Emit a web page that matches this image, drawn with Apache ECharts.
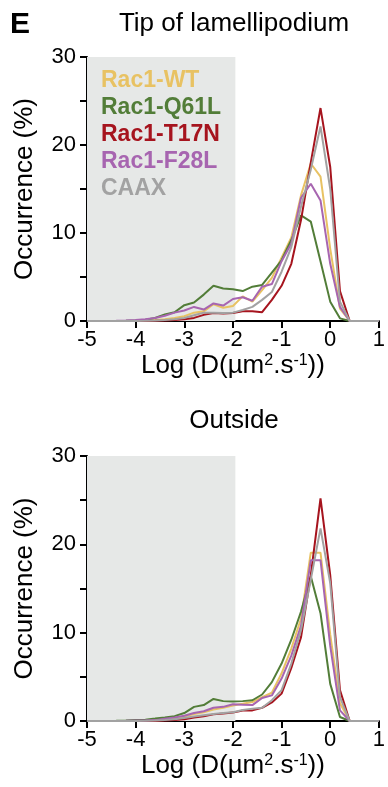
<!DOCTYPE html>
<html>
<head>
<meta charset="utf-8">
<script src="https://cdn.jsdelivr.net/npm/echarts@6/dist/echarts.min.js"></script>
<style>
  html, body { margin: 0; padding: 0; background: #fff; }
  #chart { width: 388px; height: 787px; }
</style>
</head>
<body>
<div id="chart"></div>
<script>
// Bin centres of log10 diffusion coefficient
const logD = [-5.0, -4.8, -4.6, -4.4, -4.2, -4.0, -3.8, -3.6, -3.4, -3.2, -3.0,
              -2.8, -2.6, -2.4, -2.2, -2.0, -1.8, -1.6, -1.4, -1.2, -1.0,
              -0.8, -0.6, -0.4, -0.2, 0.0, 0.2, 0.4, 0.6, 0.8, 1.0];

const seriesNames = ['Rac1-WT', 'Rac1-Q61L', 'Rac1-T17N', 'Rac1-F28L', 'CAAX'];

// Occurrence (%) at the tip of the lamellipodium
const tipWT   = [0, 0, 0, 0, 0, 0.02, 0.05, 0.1, 0.2, 0.35, 0.55, 0.95, 1.1, 1.9, 1.5, 1.7, 2.8, 2.2, 3.5, 4.9, 7.2, 9.5, 14.3, 17.9, 16.4, 8.2, 1.4, 0, 0, 0, 0];
const tipQ61L = [0, 0, 0, 0, 0.02, 0.05, 0.15, 0.35, 0.75, 1.0, 1.8, 2.1, 3.0, 4.0, 3.7, 3.6, 3.4, 3.9, 4.1, 5.5, 6.9, 9.2, 12.0, 11.3, 6.8, 2.2, 0.3, 0, 0, 0, 0];
const tipT17N = [0, 0, 0, 0, 0, 0, 0, 0.02, 0.05, 0.1, 0.2, 0.35, 0.7, 0.9, 0.85, 0.9, 1.1, 1.1, 1.0, 2.4, 4.0, 6.5, 11.5, 18.0, 24.2, 17.5, 3.4, 0, 0, 0, 0];
const tipF28L = [0, 0, 0, 0.02, 0.05, 0.1, 0.2, 0.35, 0.6, 0.95, 1.2, 1.6, 1.3, 2.0, 1.75, 2.5, 2.7, 2.3, 3.9, 4.2, 6.8, 8.8, 14.0, 15.6, 13.7, 6.5, 1.6, 0, 0, 0, 0];
const tipCAAX = [0, 0, 0, 0, 0, 0, 0.02, 0.05, 0.1, 0.2, 0.35, 0.65, 0.95, 0.95, 0.9, 0.95, 1.25, 1.6, 2.4, 3.3, 5.6, 8.4, 13.0, 17.2, 22.1, 15.0, 2.2, 0, 0, 0, 0];

// Occurrence (%) outside
const outWT   = [0, 0, 0, 0, 0, 0.02, 0.05, 0.1, 0.2, 0.35, 0.5, 0.8, 1.0, 1.3, 1.5, 1.75, 1.95, 2.15, 2.7, 3.2, 5.4, 8.2, 11.6, 19.05, 19.05, 9.8, 2.0, 0, 0, 0, 0];
const outQ61L = [0, 0, 0, 0.02, 0.05, 0.1, 0.15, 0.27, 0.4, 0.55, 0.9, 1.6, 1.8, 2.5, 2.25, 2.2, 2.25, 2.35, 3.0, 4.4, 6.5, 9.2, 12.4, 16.4, 12.2, 4.2, 0.45, 0, 0, 0, 0];
const outT17N = [0, 0, 0, 0, 0, 0, 0, 0, 0.05, 0.1, 0.2, 0.4, 0.55, 0.75, 0.85, 0.95, 1.2, 1.2, 1.5, 2.1, 3.1, 6.0, 9.5, 16.5, 25.2, 16.5, 3.5, 0, 0, 0, 0];
const outF28L = [0, 0, 0, 0, 0.02, 0.05, 0.07, 0.1, 0.25, 0.4, 0.6, 0.9, 1.1, 1.5, 1.6, 1.9, 1.85, 1.8, 2.6, 2.9, 4.8, 7.4, 10.8, 18.2, 18.2, 8.5, 1.2, 0, 0, 0, 0];
const outCAAX = [0, 0, 0, 0, 0, 0, 0.02, 0.05, 0.1, 0.2, 0.35, 0.5, 0.65, 0.8, 0.9, 1.0, 1.25, 1.4, 1.5, 2.35, 3.5, 6.5, 10.3, 16.0, 21.8, 15.6, 2.7, 0, 0, 0, 0];

// Immobile range shaded on each panel (log D)
const shadeRange = [-5, -1.95];
const xTicks = [-5, 1];
const yTicks = [0, 30];

const colors = {
  'Rac1-WT': '#E8C263',
  'Rac1-Q61L': '#527D38',
  'Rac1-T17N': '#A6141E',
  'Rac1-F28L': '#A765B0',
  'CAAX': '#A2A2A2'
};

const FONT = "'Liberation Sans', Arial, Helvetica, sans-serif";

const panels = [
  [tipWT, tipQ61L, tipT17N, tipF28L, tipCAAX],
  [outWT, outQ61L, outT17N, outF28L, outCAAX]
];

function xAxisFor(gridIndex) {
  return {
    type: 'value', gridIndex: gridIndex,
    min: xTicks[0], max: xTicks[1], interval: 1,
    name: 'Log (D(µm{sup|2}.s{sup|-1}))',
    nameLocation: 'middle', nameGap: 32,
    nameTextStyle: {
      color: '#000', fontFamily: FONT, fontSize: 26,
      rich: { sup: { fontSize: 16, verticalAlign: 'top', color: '#000', fontFamily: FONT } }
    },
    axisLine: { show: true, onZero: false, lineStyle: { color: '#000', width: 2 } },
    axisTick: { show: true, length: 7, lineStyle: { color: '#000', width: 2 } },
    axisLabel: { color: '#000', fontFamily: FONT, fontSize: 22, margin: 8 },
    splitLine: { show: false }
  };
}

function yAxisFor(gridIndex) {
  return {
    type: 'value', gridIndex: gridIndex,
    min: yTicks[0], max: yTicks[1], interval: 5,
    name: 'Occurrence (%)',
    nameLocation: 'middle', nameGap: 49,
    nameTextStyle: { color: '#000', fontFamily: FONT, fontSize: 26 },
    axisLine: { show: true, onZero: false, lineStyle: { color: '#000', width: 2 } },
    axisTick: { show: true, length: 7, lineStyle: { color: '#000', width: 2 } },
    axisLabel: {
      color: '#000', fontFamily: FONT, fontSize: 22, margin: 11,
      formatter: v => (v % 10 === 0 ? String(v) : '')
    },
    splitLine: { show: false }
  };
}

const series = [];
panels.forEach((values, p) => {
  values.forEach((vals, i) => {
    const name = seriesNames[i];
    const s = {
      type: 'line', name: name,
      xAxisIndex: p, yAxisIndex: p,
      data: logD.map((x, k) => [x, vals[k]]),
      showSymbol: false, symbol: 'none',
      lineStyle: { color: colors[name], width: 2 },
      itemStyle: { color: colors[name] },
      z: 2 + i,
      animation: false
    };
    if (i === 0) {
      s.markArea = {
        silent: true,
        itemStyle: { color: '#E6E8E7' },
        data: [[{ coord: [shadeRange[0], yTicks[0]] }, { coord: [shadeRange[1], yTicks[1]] }]]
      };
    }
    series.push(s);
  });
});

const chart = echarts.init(document.getElementById('chart'), null, { renderer: 'canvas' });
chart.setOption({
  animation: false,
  backgroundColor: '#fff',
  title: [
    { text: 'E', left: 10, top: 10, padding: 0,
      textStyle: { fontFamily: FONT, fontSize: 30, fontWeight: 'bold', color: '#000' } },
    { text: 'Tip of lamellipodium', left: 234, top: 11, padding: 0, textAlign: 'center',
      textStyle: { fontFamily: FONT, fontSize: 26, fontWeight: 'normal', color: '#000' } },
    { text: 'Outside', left: 234, top: 408, padding: 0, textAlign: 'center',
      textStyle: { fontFamily: FONT, fontSize: 26, fontWeight: 'normal', color: '#000' } }
  ],
  legend: {
    orient: 'vertical', left: 96, top: 67, padding: 0,
    icon: 'none', itemWidth: 0, itemHeight: 0, itemGap: 0,
    selectedMode: false,
    textStyle: { fontFamily: FONT, fontSize: 23, fontWeight: 'bold', lineHeight: 27 },
    data: seriesNames.map(n => ({ name: n, textStyle: { color: colors[n] } }))
  },
  grid: [
    { left: 87, right: 6, top: 57, height: 264 },
    { left: 87, right: 6, top: 456, height: 265 }
  ],
  xAxis: [xAxisFor(0), xAxisFor(1)],
  yAxis: [yAxisFor(0), yAxisFor(1)],
  series: series
});
</script>
</body>
</html>
